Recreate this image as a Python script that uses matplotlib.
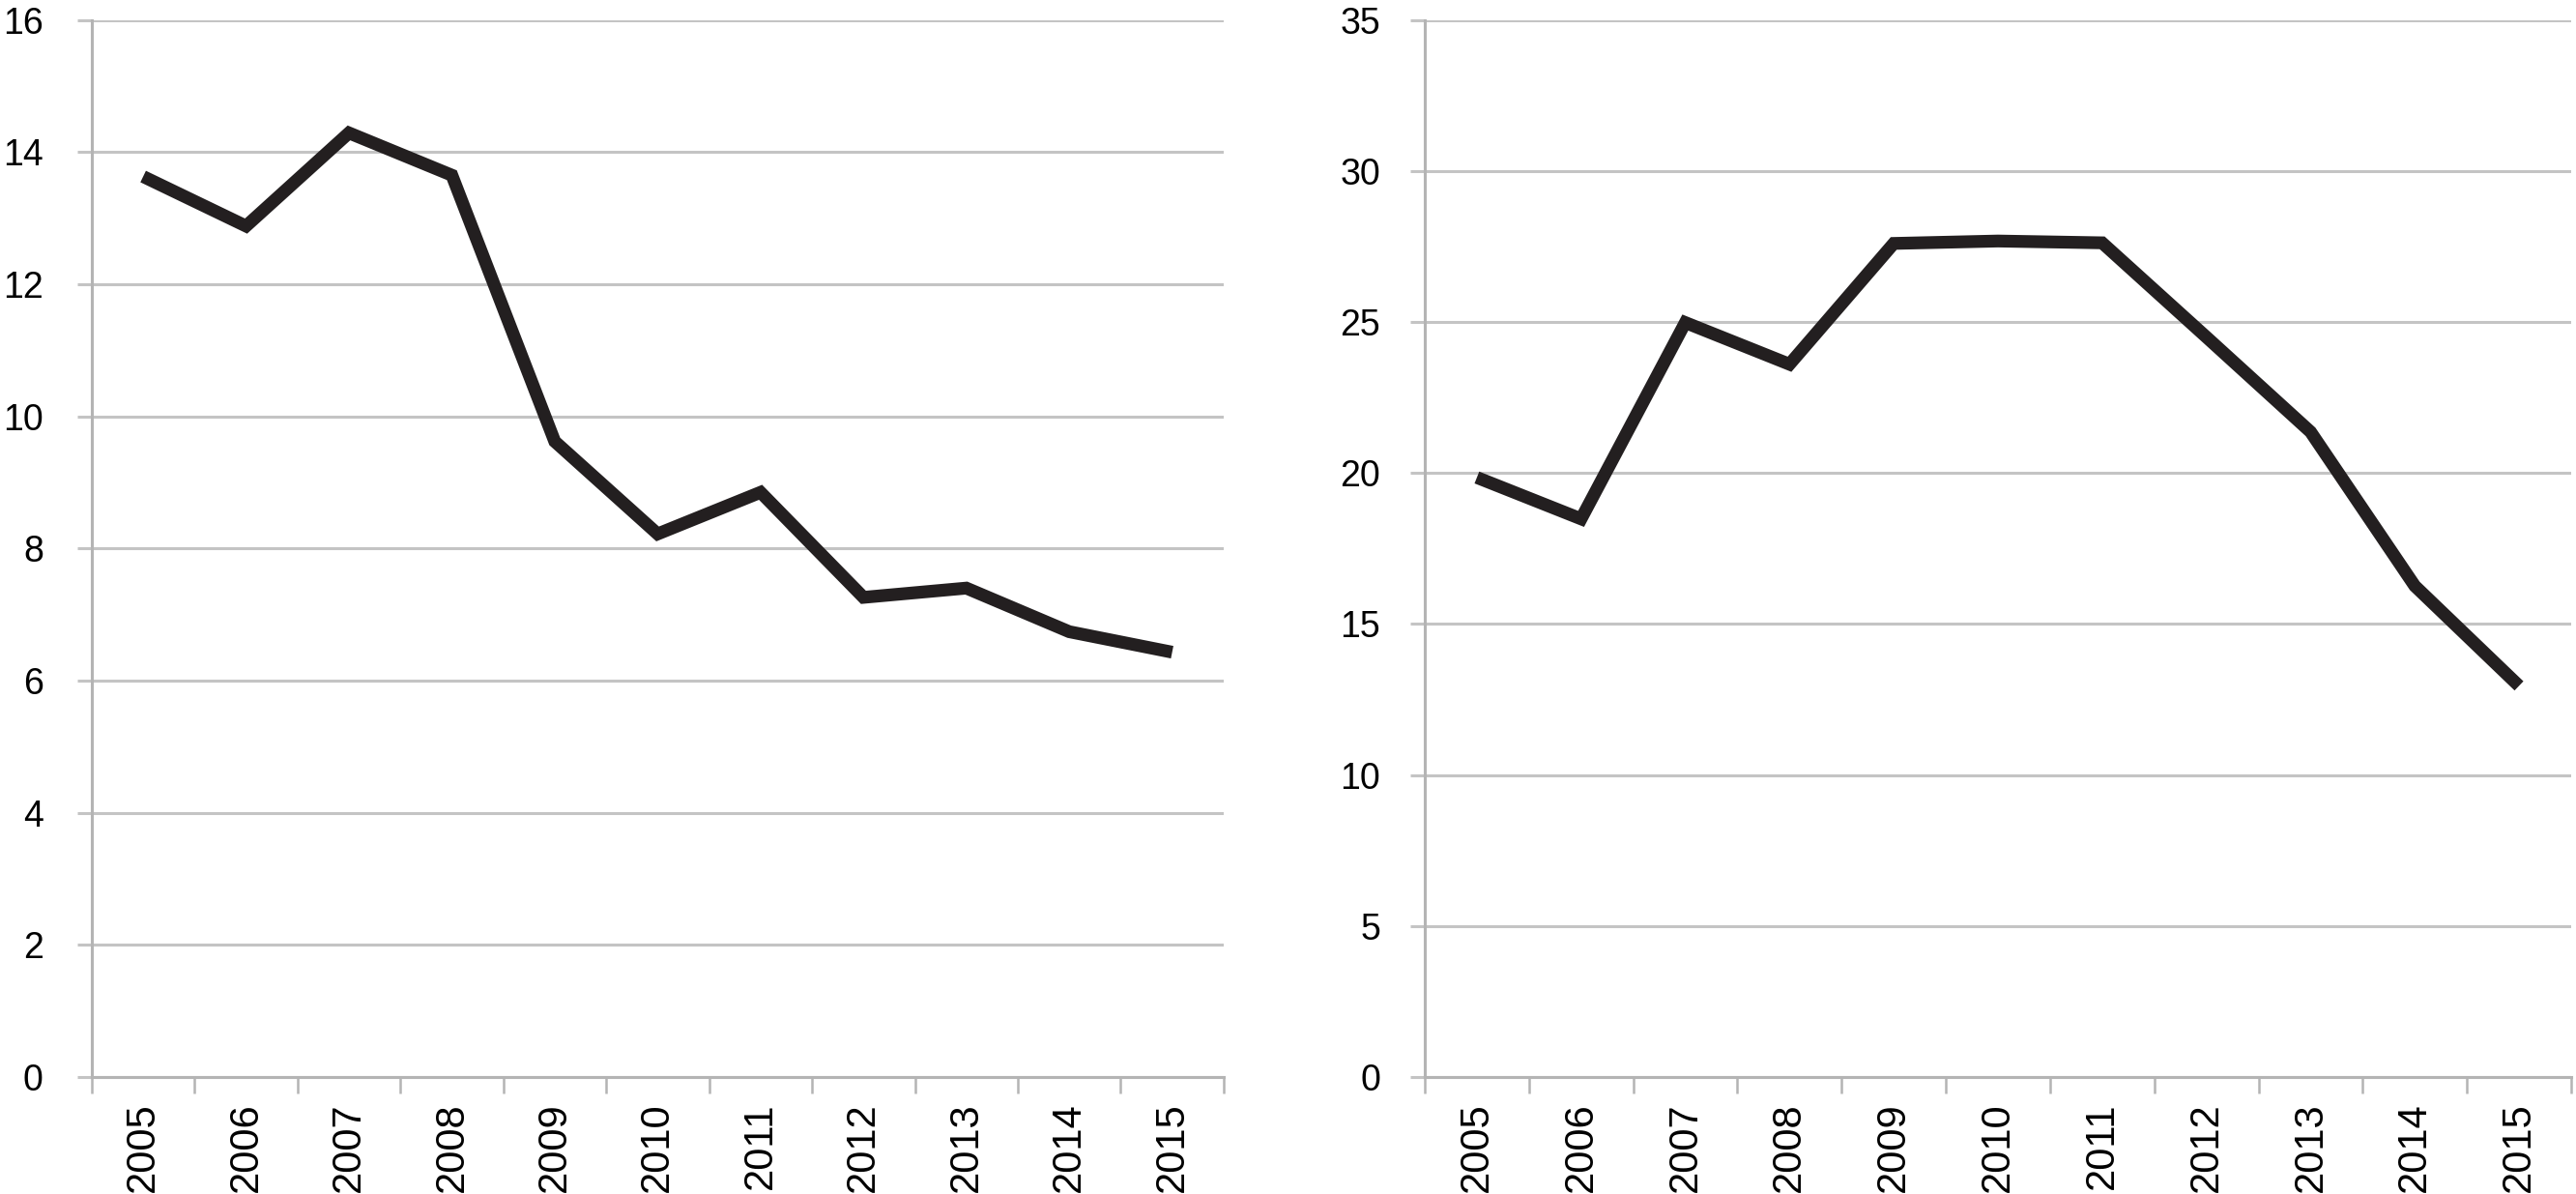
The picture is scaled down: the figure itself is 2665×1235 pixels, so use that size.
import matplotlib.pyplot as plt
import numpy as np

plt.rcParams['font.family'] = ['Liberation Sans', 'DejaVu Sans']

# Data
years = ['2005', '2006', '2007', '2008', '2009', '2010',
         '2011', '2012', '2013', '2014', '2015']
left_values = [13.63, 12.88, 14.29, 13.65, 9.62, 8.22, 8.85, 7.26, 7.40, 6.74, 6.43]
right_values = [19.85, 18.48, 24.98, 23.60, 27.60, 27.68, 27.62, 24.50, 21.36, 16.26, 12.95]

left_ticks = [0, 2, 4, 6, 8, 10, 12, 14, 16]
right_ticks = [0, 5, 10, 15, 20, 25, 30, 35]

grid_color = '#c4c4c4'
axis_color = '#b4b4b4'
line_color = '#231f20'

fig = plt.figure(figsize=(26.65, 12.35), dpi=100)
ax1 = fig.add_axes([0.0356, 0.098, 0.4394, 0.8853])
ax2 = fig.add_axes([0.5531, 0.098, 0.4450, 0.8853])


def style_axis(ax, values, yticks, ylabel_pad):
    x = np.arange(len(years))
    ax.plot(x, values, color=line_color, linewidth=9.5, solid_joinstyle='miter',
            solid_capstyle='butt', zorder=3)
    ax.set_xlim(-0.5, len(years) - 0.5)
    ax.set_ylim(yticks[0], yticks[-1])
    ax.set_yticks(yticks)
    ax.set_yticklabels([str(t) for t in yticks], fontsize=27)
    ax.yaxis.grid(True, color=grid_color, linewidth=2.2)
    ax.set_axisbelow(True)
    ax.tick_params(axis='y', length=11, width=2.2, color=grid_color, pad=ylabel_pad)

    # category boundaries as ticks, labels in the middle
    ax.set_xticks(np.arange(len(years) + 1) - 0.5)
    ax.set_xticklabels([])
    ax.tick_params(axis='x', which='major', length=12, width=1.8, color=axis_color)
    ax.set_xticks(x, minor=True)
    ax.set_xticklabels(years, minor=True, rotation=90, fontsize=30, va='top')
    ax.tick_params(axis='x', which='minor', length=0, pad=19)

    for side in ['top', 'right']:
        ax.spines[side].set_visible(False)
    for side in ['left', 'bottom']:
        ax.spines[side].set_color(axis_color)
        ax.spines[side].set_linewidth(2.2)


style_axis(ax1, left_values, left_ticks, 25)
style_axis(ax2, right_values, right_ticks, 22)

fig.savefig('out.png', dpi=100)
